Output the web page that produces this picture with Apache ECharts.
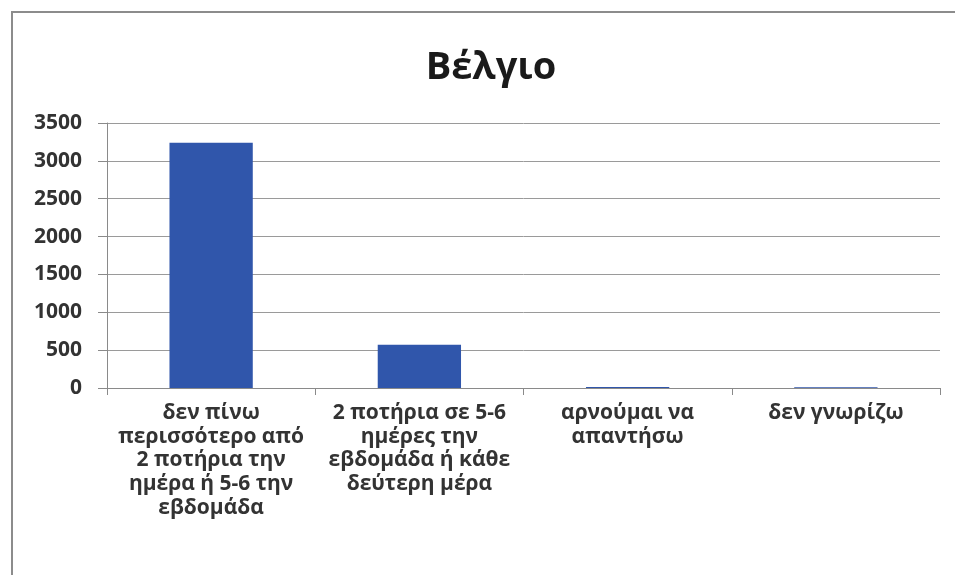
<!DOCTYPE html>
<html>
<head>
<meta charset="utf-8">
<script src="https://cdn.jsdelivr.net/npm/echarts@6/dist/echarts.min.js"></script>
<style>
  html, body { margin: 0; padding: 0; background: #ffffff; }
  #chart { width: 955px; height: 575px; }
</style>
</head>
<body>
<div id="chart"></div>
<script>
// Survey answers on drinking frequency, Belgium
const chartTitle = 'Βέλγιο';
const categories = [
  'δεν πίνω\nπερισσότερο από\n2 ποτήρια την\nημέρα ή 5-6 την\nεβδομάδα',
  '2 ποτήρια σε 5-6\nημέρες την\nεβδομάδα ή κάθε\nδεύτερη μέρα',
  'αρνούμαι να\nαπαντήσω',
  'δεν γνωρίζω'
];
const counts = [3240, 570, 14, 10];
const yTicks = { min: 0, max: 3500, step: 500 };

const textFont = '"Open Sans", "Noto Sans", "DejaVu Sans", sans-serif';
const gridColor = '#9a9a9a';

const chart = echarts.init(document.getElementById('chart'), null, { renderer: 'canvas' });

chart.setOption({
  backgroundColor: '#ffffff',
  animation: false,
  title: {
    text: chartTitle,
    left: 486,
    textAlign: 'center',
    top: 44,
    textStyle: { fontFamily: textFont, fontSize: 38, fontWeight: 'bold', color: '#1a1a1a' }
  },
  grid: { left: 107, right: 15, top: 123, bottom: 187 },
  xAxis: {
    type: 'category',
    data: categories,
    boundaryGap: true,
    axisLine: { lineStyle: { color: '#8a8a8a', width: 1 } },
    axisTick: { show: true, length: 7, lineStyle: { color: '#8a8a8a' } },
    axisLabel: {
      interval: 0,
      margin: 13,
      color: '#333333',
      fontFamily: textFont,
      fontSize: 21,
      fontWeight: 'bold',
      lineHeight: 23.7,
      align: 'center'
    }
  },
  yAxis: {
    type: 'value',
    min: yTicks.min,
    max: yTicks.max,
    interval: yTicks.step,
    axisLine: { show: true, lineStyle: { color: '#8a8a8a', width: 1 } },
    axisTick: { show: true, length: 9, lineStyle: { color: '#8a8a8a' } },
    splitLine: { lineStyle: { color: gridColor, width: 1 } },
    axisLabel: {
      margin: 25,
      color: '#333333',
      fontFamily: textFont,
      fontSize: 21,
      fontWeight: 'bold',
      formatter: (v) => String(v)
    }
  },
  series: [{
    type: 'bar',
    data: counts,
    barWidth: '40%',
    itemStyle: { color: '#3056ab' }
  }],
  graphic: [
    {
      type: 'polyline',
      silent: true,
      shape: { points: [[12, 575], [12, 12], [955, 12]] },
      style: { stroke: '#8c8c8c', lineWidth: 2, fill: null }
    }
  ]
});
</script>
</body>
</html>
